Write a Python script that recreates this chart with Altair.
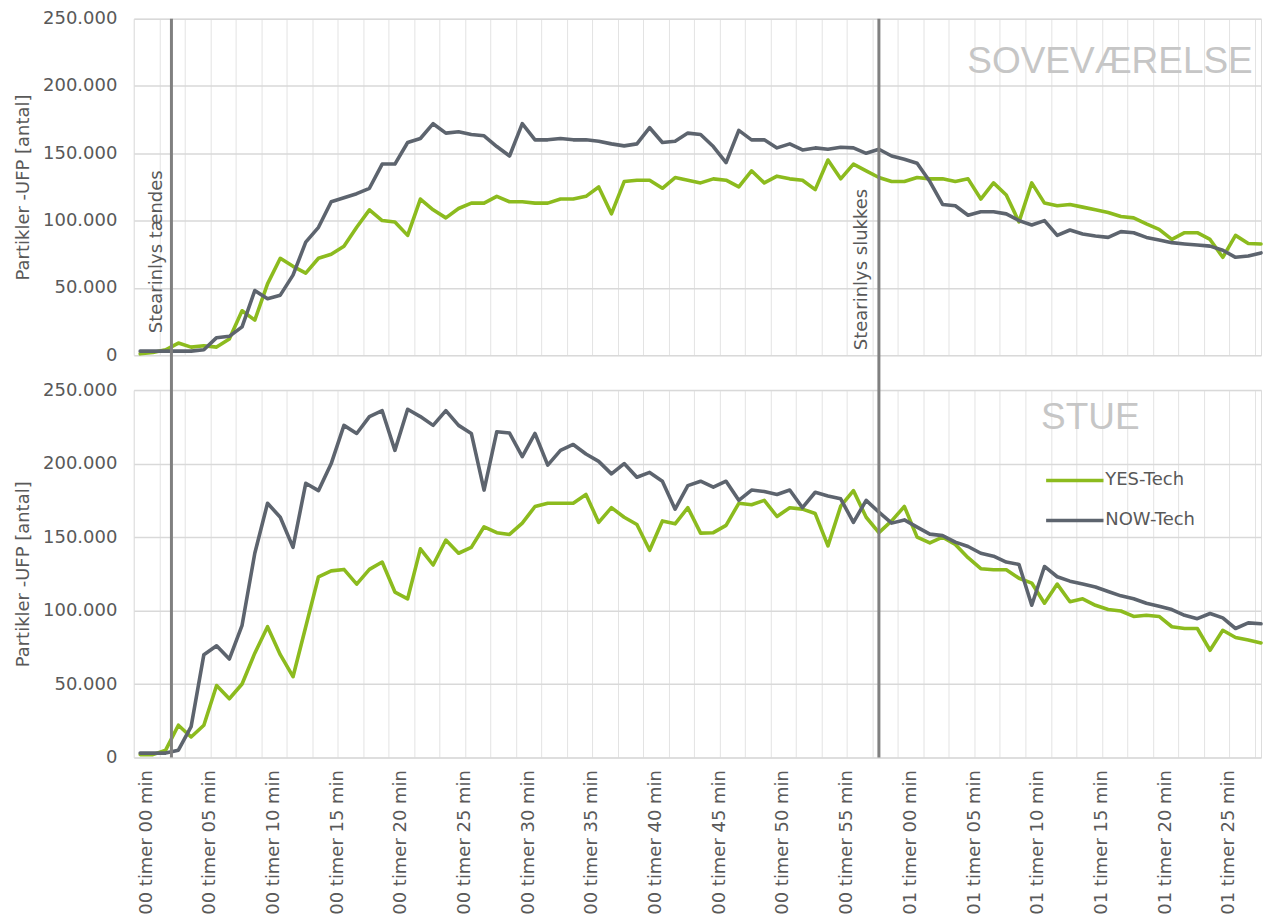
import altair as alt
import pandas as pd

# ---------------- data ----------------
minutes = list(range(89))  # 00 timer 00 min ... 01 timer 28 min

top_yes = [1000, 2000, 4000, 9000, 6000, 7000, 6000, 12000, 33000, 26000,
           53000, 72000, 66000, 61000, 72000, 75000, 81000, 95000, 108000, 100000,
           99000, 89000, 116000, 108000, 102000, 109000, 113000, 113000, 118000, 114000,
           114000, 113000, 113000, 116000, 116000, 118000, 125000, 105000, 129000, 130000,
           130000, 124000, 132000, 130000, 128000, 131000, 130000, 125000, 137000, 128000,
           133000, 131000, 130000, 123000, 145000, 131000, 142000, 137000, 132000, 129000,
           129000, 132000, 131000, 131000, 129000, 131000, 116000, 128000, 119000, 99000,
           128000, 113000, 111000, 112000, 110000, 108000, 106000, 103000, 102000, 97500,
           93500, 86000, 91000, 91000, 86000, 72700, 89000, 83000, 82600]
top_now = [3000, 3000, 3000, 3000, 3000, 4000, 13000, 14000, 21000, 48000,
           42000, 44600, 59500, 84000, 95000, 114000, 117000, 120000, 124000, 142000,
           142000, 158000, 161000, 172000, 165000, 166000, 164000, 163000, 155000, 148000,
           172000, 160000, 160000, 161000, 160000, 160000, 159000, 157000, 155500, 157000,
           169000, 158000, 159000, 165000, 164000, 155000, 143000, 167000, 160000, 160000,
           154000, 157000, 152500, 154000, 153000, 154500, 154000, 150000, 153000, 148000,
           145600, 142600, 129000, 112000, 111000, 104000, 106600, 106600, 105000, 100000,
           96700, 100000, 89000, 93000, 90000, 88500, 87500, 91800, 91000, 87500,
           85600, 83600, 82600, 81800, 81000, 78000, 72700, 73700, 76000]
bot_yes = [2000, 2000, 5000, 22000, 14000, 22000, 49000, 40000, 50000, 71000,
           89000, 70000, 55000, 89000, 123000, 127000, 128000, 118000, 128000, 133000,
           112600, 108000, 142000, 131000, 148000, 139000, 143000, 157000, 153000, 151800,
           159500, 170800, 173000, 173000, 173000, 179000, 160000, 170000, 163500, 158600,
           141000, 161000, 159000, 170000, 152700, 153000, 158000, 173000, 172000, 175000,
           164000, 170000, 169000, 166000, 144000, 171000, 181600, 163500, 153000, 161000,
           170800, 150000, 146000, 150000, 145000, 136000, 128500, 127800, 127800, 122000,
           118700, 105000, 118000, 106000, 108000, 103600, 100700, 99700, 96000, 96800,
           96000, 89000, 87800, 87800, 73000, 86600, 81700, 80000, 78000]
bot_now = [3000, 3000, 3000, 5000, 21000, 70000, 76000, 67000, 90000, 139000,
           173000, 163500, 143000, 186600, 181600, 200000, 226000, 220500, 232000, 236000,
           209000, 237000, 232000, 226000, 236000, 226000, 220500, 182000, 221700, 220800,
           204700, 220500, 199000, 209000, 213000, 206500, 201500, 193000, 200000, 190700,
           194000, 188000, 169000, 185000, 188000, 184000, 188000, 175000, 182000, 181000,
           179000, 182000, 170000, 180500, 178000, 176000, 160000, 175000, 167000, 159500,
           161700, 156800, 152000, 151000, 146600, 143600, 139000, 137000, 133000, 131400,
           103600, 130000, 123000, 120000, 118000, 116000, 113000, 110000, 108000, 105000,
           103000, 100700, 96800, 94500, 98000, 95000, 87800, 91600, 91000]

series_names = ["YES-Tech", "NOW-Tech"]
series_colors = ["#8CBB1E", "#5D646E"]
y_ticks = [0, 50000, 100000, 150000, 200000, 250000]
x_label_ticks = list(range(0, 86, 5))
x_grid_ticks = [-0.5 + 2 * k for k in range(45)]

event_minutes = [2.455, 58.0]
event_label_minutes = [1.68, 57.1]
event_label_values = [16300, 3700]
event_texts = ["Stearinlys tændes", "Stearinlys slukkes"]

panel_names = ["SOVEVÆRELSE", "STUE"]
panel_title_minutes = [87.35, 74.6]
panel_title_values = [209500, 223500]

# ---------------- tables ----------------
def series_df(yes, now):
    rows = []
    for name, vals in zip(series_names, [yes, now]):
        for m, v in zip(minutes, vals):
            rows.append({"t": m, "v": v, "serie": name})
    return pd.DataFrame(rows)

df_top = series_df(top_yes, top_now)
df_bot = series_df(bot_yes, bot_now)
df_events = pd.DataFrame({"t": event_minutes})
df_event_labels = pd.DataFrame({"t": event_label_minutes, "v": event_label_values, "txt": event_texts})

W = 1129
TOP_H = 337
BOT_H = 368
GAP = 35

FONT = "DejaVu Sans"
TXT = "#595959"

x_scale = alt.Scale(domain=[-0.5, 88], nice=False, zero=False)
y_scale = alt.Scale(domain=[0, 250000], nice=False)

y_axis = alt.Axis(values=y_ticks, labelExpr="replace(format(datum.value, ','), ',', '.')",
                  title="Partikler -UFP [antal]", ticks=False, domain=False,
                  grid=True, gridColor="#D9D9D9", gridWidth=1.5,
                  labelPadding=17, titlePadding=10, labelFontSize=18, titleFontSize=18,
                  labelFont=FONT, titleFont=FONT, labelColor=TXT, titleColor=TXT,
                  titleFontWeight="normal")


def y_enc():
    return alt.Y("v:Q", scale=y_scale, axis=y_axis)


grid_axis = alt.Axis(values=x_grid_ticks, orient="top", labels=False, ticks=False, domain=False,
                     grid=True, gridColor="#E3E3E3", gridWidth=1, title=None)


def x_grid():
    return alt.X("t:Q", scale=x_scale, axis=grid_axis)


color_scale = alt.Scale(domain=series_names, range=series_colors)


def title_layer(i, x_enc):
    d = pd.DataFrame({"t": [panel_title_minutes[i]], "v": [panel_title_values[i]], "txt": [panel_names[i]]})
    return alt.Chart(d).mark_text(
        font="Liberation Sans", fontSize=37, color="#C6C6C6",
        align="right" if i == 0 else "center", baseline="alphabetic"
    ).encode(x=x_enc, y=y_enc(), text="txt:N")


LINE = dict(strokeWidth=3.6, strokeJoin="round", strokeCap="round")

# ---------------- top panel (every layer carries the same axes) ----------------
top_lines = alt.Chart(df_top).mark_line(**LINE).encode(
    x=x_grid(),
    y=y_enc(),
    color=alt.Color("serie:N", legend=None, scale=color_scale),
    order=alt.Order("t:Q"),
)
event_text = alt.Chart(df_event_labels).mark_text(
    angle=270, align="left", baseline="alphabetic", font=FONT, fontSize=18, color=TXT
).encode(x=x_grid(), y=y_enc(), text="txt:N")

top = alt.layer(top_lines, event_text, title_layer(0, x_grid())).properties(
    width=W, height=TOP_H)

# ---------------- bottom panel ----------------
grid_bot = alt.Chart(df_bot).mark_point(opacity=0, size=1).encode(x=x_grid(), y=y_enc())
bot_lines = alt.Chart(df_bot).mark_line(**LINE).encode(
    x=alt.X("t:Q", scale=x_scale,
            axis=alt.Axis(values=x_label_ticks, grid=False, ticks=False, domain=False, title=None,
                          labelAngle=270, labelPadding=12, labelOffset=6, labelFontSize=18,
                          labelFont=FONT, labelColor=TXT, labelFlush=False,
                          labelExpr="format(floor(datum.value/60), '02d') + ' timer ' + format(datum.value % 60, '02d') + ' min'")),
    y=y_enc(),
    color=alt.Color("serie:N", sort=series_names, scale=color_scale,
                    legend=alt.Legend(title=None, orient="none", legendX=912, legendY=60,
                                      symbolType="stroke", symbolSize=3300, symbolStrokeWidth=3.5,
                                      labelFontSize=18, labelFont=FONT, labelColor=TXT,
                                      labelOffset=0, rowPadding=0)),
    order=alt.Order("t:Q"),
)
event_rules = alt.Chart(df_events).mark_rule(color="#808080", strokeWidth=3).encode(
    x=alt.X("t:Q", scale=x_scale, axis=None),
    y=alt.value(-(TOP_H + GAP)),
    y2=alt.value(BOT_H),
)

bottom = alt.layer(
    grid_bot, bot_lines,
    title_layer(1, alt.X("t:Q", scale=x_scale, axis=None)),
    event_rules,
).resolve_axis(x="independent").properties(width=W, height=BOT_H)

chart = alt.vconcat(top, bottom, spacing=GAP, bounds="flush").resolve_scale(
    color="independent"
).properties(
    padding={"left": 6, "top": 0, "right": 0, "bottom": 0}
).configure_view(
    fill="#F2F2F2", stroke=None
).configure(background="white")

chart.save("out.html", embed_options={"renderer": "svg", "actions": False})
